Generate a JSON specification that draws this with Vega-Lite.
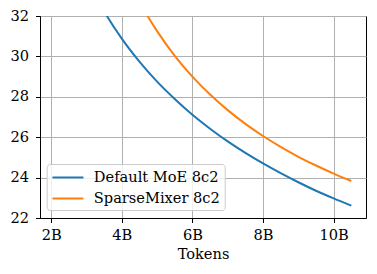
{
  "$schema": "https://vega.github.io/schema/vega-lite/v6.json",
  "autosize": {"type": "none"},
  "width": 326,
  "height": 202,
  "padding": {"left": 40, "top": 16, "right": 11, "bottom": 56},
  "background": "white",
  "config": {
    "view": {"stroke": "black", "strokeWidth": 1},
    "font": "DejaVu Serif",
    "axis": {
      "labelFont": "DejaVu Serif",
      "titleFont": "DejaVu Serif",
      "labelFontSize": 14.6,
      "titleFontSize": 14.6,
      "labelColor": "black",
      "titleColor": "black",
      "titleFontWeight": "normal",
      "domainColor": "black",
      "tickColor": "black",
      "tickSize": 4.5,
      "gridColor": "#b0b0b0",
      "gridWidth": 1
    }
  },
  "data": {
    "values": [
      {"t": 2.1, "loss": 37.9, "s": "Default MoE 8c2"},
      {"t": 2.5, "loss": 35.86, "s": "Default MoE 8c2"},
      {"t": 3.0, "loss": 33.85, "s": "Default MoE 8c2"},
      {"t": 3.5, "loss": 32.23, "s": "Default MoE 8c2"},
      {"t": 4.0, "loss": 30.88, "s": "Default MoE 8c2"},
      {"t": 4.5, "loss": 29.74, "s": "Default MoE 8c2"},
      {"t": 5.0, "loss": 28.75, "s": "Default MoE 8c2"},
      {"t": 5.5, "loss": 27.89, "s": "Default MoE 8c2"},
      {"t": 6.0, "loss": 27.11, "s": "Default MoE 8c2"},
      {"t": 6.5, "loss": 26.42, "s": "Default MoE 8c2"},
      {"t": 7.0, "loss": 25.79, "s": "Default MoE 8c2"},
      {"t": 7.5, "loss": 25.22, "s": "Default MoE 8c2"},
      {"t": 8.0, "loss": 24.7, "s": "Default MoE 8c2"},
      {"t": 8.5, "loss": 24.22, "s": "Default MoE 8c2"},
      {"t": 9.0, "loss": 23.77, "s": "Default MoE 8c2"},
      {"t": 9.5, "loss": 23.35, "s": "Default MoE 8c2"},
      {"t": 10.0, "loss": 22.97, "s": "Default MoE 8c2"},
      {"t": 10.5, "loss": 22.61, "s": "Default MoE 8c2"},
      {"t": 2.1, "loss": 47.83, "s": "SparseMixer 8c2"},
      {"t": 2.5, "loss": 43.52, "s": "SparseMixer 8c2"},
      {"t": 3.0, "loss": 39.6, "s": "SparseMixer 8c2"},
      {"t": 3.5, "loss": 36.72, "s": "SparseMixer 8c2"},
      {"t": 4.0, "loss": 34.48, "s": "SparseMixer 8c2"},
      {"t": 4.5, "loss": 32.7, "s": "SparseMixer 8c2"},
      {"t": 5.0, "loss": 31.25, "s": "SparseMixer 8c2"},
      {"t": 5.5, "loss": 30.03, "s": "SparseMixer 8c2"},
      {"t": 6.0, "loss": 29.0, "s": "SparseMixer 8c2"},
      {"t": 6.5, "loss": 28.11, "s": "SparseMixer 8c2"},
      {"t": 7.0, "loss": 27.34, "s": "SparseMixer 8c2"},
      {"t": 7.5, "loss": 26.66, "s": "SparseMixer 8c2"},
      {"t": 8.0, "loss": 26.06, "s": "SparseMixer 8c2"},
      {"t": 8.5, "loss": 25.52, "s": "SparseMixer 8c2"},
      {"t": 9.0, "loss": 25.03, "s": "SparseMixer 8c2"},
      {"t": 9.5, "loss": 24.6, "s": "SparseMixer 8c2"},
      {"t": 10.0, "loss": 24.2, "s": "SparseMixer 8c2"},
      {"t": 10.5, "loss": 23.83, "s": "SparseMixer 8c2"}
    ]
  },
  "mark": {"type": "line", "clip": true, "strokeWidth": 2, "interpolate": "monotone"},
  "encoding": {
    "x": {
      "field": "t",
      "type": "quantitative",
      "title": "Tokens",
      "scale": {"domain": [1.684, 10.916], "nice": false, "zero": false},
      "axis": {
        "values": [2, 4, 6, 8, 10],
        "labelExpr": "datum.value + 'B'",
        "labelPadding": 5,
        "titlePadding": 4,
        "grid": true
      }
    },
    "y": {
      "field": "loss",
      "type": "quantitative",
      "title": null,
      "scale": {"domain": [22, 32], "nice": false, "zero": false},
      "axis": {
        "values": [22, 24, 26, 28, 30, 32],
        "labelPadding": 7,
        "grid": true
      }
    },
    "color": {
      "field": "s",
      "type": "nominal",
      "title": null,
      "scale": {"domain": ["Default MoE 8c2", "SparseMixer 8c2"], "range": ["#1f77b4", "#ff7f0e"]},
      "legend": {
        "orient": "none",
        "legendX": 6.7,
        "legendY": 148,
        "symbolType": "M-1,0H3",
        "symbolSize": 240,
        "symbolStrokeWidth": 2,
        "labelFont": "DejaVu Serif",
        "labelFontSize": 14.6,
        "labelColor": "black",
        "labelOffset": 24.6,
        "rowPadding": 5,
        "padding": 4.5,
        "fillColor": "rgba(255,255,255,0.8)",
        "strokeColor": "#cccccc",
        "cornerRadius": 3
      }
    }
  }
}
